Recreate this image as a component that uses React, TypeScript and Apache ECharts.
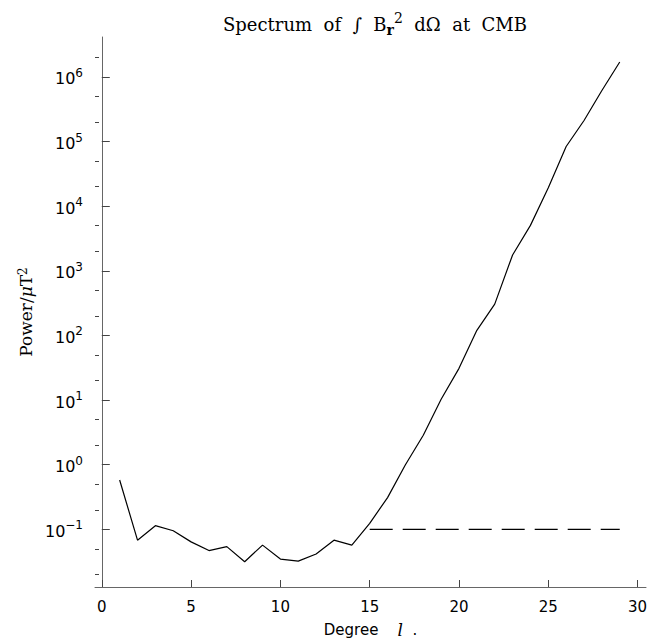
import React, { useEffect, useRef } from 'react';
import * as echarts from 'echarts';

// Degree l and power spectrum values (µT²)
const degrees = [1, 2, 3, 4, 5, 6, 7, 8, 9, 10, 11, 12, 13, 14, 15, 16, 17, 18, 19, 20, 21, 22, 23, 24, 25, 26, 27, 28, 29];
const power = [
  0.58, 0.068, 0.114, 0.095, 0.064, 0.047, 0.054, 0.0316, 0.057, 0.0347,
  0.0323, 0.0415, 0.068, 0.057, 0.124, 0.31, 1.0, 2.86, 10.3, 31,
  120, 305, 1760, 5050, 19300, 84000, 212000, 617000, 1700000,
];
// Dashed reference level
const refDegrees = [15, 29];
const refPower = [0.1, 0.1];

// Ticks
const xTicks = [0, 5, 10, 15, 20, 25, 30];
const yTicks = [0.1, 1, 10, 100, 1e3, 1e4, 1e5, 1e6];
const yMinorTicks = [0.02, 0.05, 0.2, 0.5, 2, 5, 20, 50, 200, 500, 2e3, 5e3, 2e4, 5e4, 2e5, 5e5, 2e6];

const X_MIN = -0.38;
const X_MAX = 30.47;
const Y_MIN = Math.pow(10, -1.892);
const Y_MAX = Math.pow(10, 6.618);

export default function App() {
  const ref = useRef<HTMLDivElement>(null);

  useEffect(() => {
    if (!ref.current) return;
    const chart = echarts.init(ref.current, null, { renderer: 'svg' });
    const axisColor = '#666';
    const supLabel = (v: number) => {
      const e = Math.round(Math.log10(v));
      const s = e < 0 ? '\u2212' + String(-e) : String(e);
      return `{b|10}{s|${s}}`;
    };
    chart.setOption({
      animation: false,
      backgroundColor: '#fff',
      title: {
        text: 'Spectrum  of  \u222B  B{r|r}{s|2}  d\u03A9  at  CMB',
        left: 370,
        top: 6,
        textAlign: 'center',
        textStyle: {
          fontFamily: 'DejaVu Serif',
          fontSize: 18,
          fontWeight: 'normal',
          color: '#000',
          rich: {
            r: { fontFamily: 'DejaVu Serif', fontSize: 14, fontWeight: 'bold', color: '#000', verticalAlign: 'bottom', lineHeight: 26 },
            s: { fontFamily: 'DejaVu Serif', fontSize: 14, color: '#000', verticalAlign: 'top', lineHeight: 14 },
          },
        },
      },
      grid: { left: 95, right: 3, top: 37, bottom: 54, outerBoundsMode: 'none' },
      xAxis: {
        type: 'value',
        min: X_MIN,
        max: X_MAX,
        splitLine: { show: false },
        axisLine: { show: true, lineStyle: { color: axisColor, width: 1 } },
        axisTick: { show: true, inside: true, length: 7, customValues: xTicks, lineStyle: { color: '#444' } },
        axisLabel: {
          customValues: xTicks,
          margin: 12,
          fontFamily: 'DejaVu Sans',
          fontSize: 15,
          color: '#000',
        },
        name: 'Degree    {l|l}  .',
        nameLocation: 'middle',
        nameGap: 34,
        nameTextStyle: {
          fontFamily: 'DejaVu Sans',
          fontSize: 15,
          color: '#000',
          rich: { l: { fontFamily: 'DejaVu Serif', fontStyle: 'italic', fontSize: 17, color: '#000' } },
        },
      },
      yAxis: [
        {
          type: 'log',
          logBase: 10,
          min: Y_MIN,
          max: Y_MAX,
          position: 'left',
          splitLine: { show: false },
          minorTick: { show: false },
          axisLine: { show: true, lineStyle: { color: axisColor, width: 1 } },
          axisTick: { show: true, inside: true, length: 8, customValues: yTicks, lineStyle: { color: '#444' } },
          axisLabel: {
            customValues: yTicks,
            margin: 12,
            formatter: supLabel,
            rich: {
              b: { fontFamily: 'DejaVu Sans', fontSize: 16, color: '#000', lineHeight: 20, verticalAlign: 'bottom' },
              s: { fontFamily: 'DejaVu Sans', fontSize: 12, color: '#000', lineHeight: 12, verticalAlign: 'top' },
            },
          },
          name: 'Power/{m|\u03BC}T{s|2}',
          nameLocation: 'middle',
          nameGap: 58,
          nameTextStyle: {
            fontFamily: 'DejaVu Serif',
            fontSize: 17,
            color: '#000',
            rich: {
              m: { fontFamily: 'DejaVu Serif', fontStyle: 'italic', fontSize: 17, color: '#000' },
              s: { fontFamily: 'DejaVu Serif', fontSize: 12, color: '#000', verticalAlign: 'top', lineHeight: 12 },
            },
          },
        },
        {
          type: 'log',
          logBase: 10,
          min: Y_MIN,
          max: Y_MAX,
          position: 'left',
          splitLine: { show: false },
          axisLine: { show: false },
          axisTick: { show: true, inside: true, length: 4, customValues: yMinorTicks, lineStyle: { color: '#444' } },
          axisLabel: { show: false },
        },
      ],
      series: [
        {
          type: 'line',
          data: degrees.map((d, i) => [d, power[i]]),
          symbol: 'none',
          lineStyle: { color: '#000', width: 1.2 },
          yAxisIndex: 0,
        },
        {
          type: 'line',
          data: refDegrees.map((d, i) => [d, refPower[i]]),
          symbol: 'none',
          lineStyle: { color: '#000', width: 1.2, type: [23, 10] },
          yAxisIndex: 0,
        },
      ],
    });
    return () => chart.dispose();
  }, []);

  return (
    <div
      ref={ref}
      style={{ position: 'fixed', left: 0, top: 0, width: 649, height: 641, background: '#fff' }}
    />
  );
}
